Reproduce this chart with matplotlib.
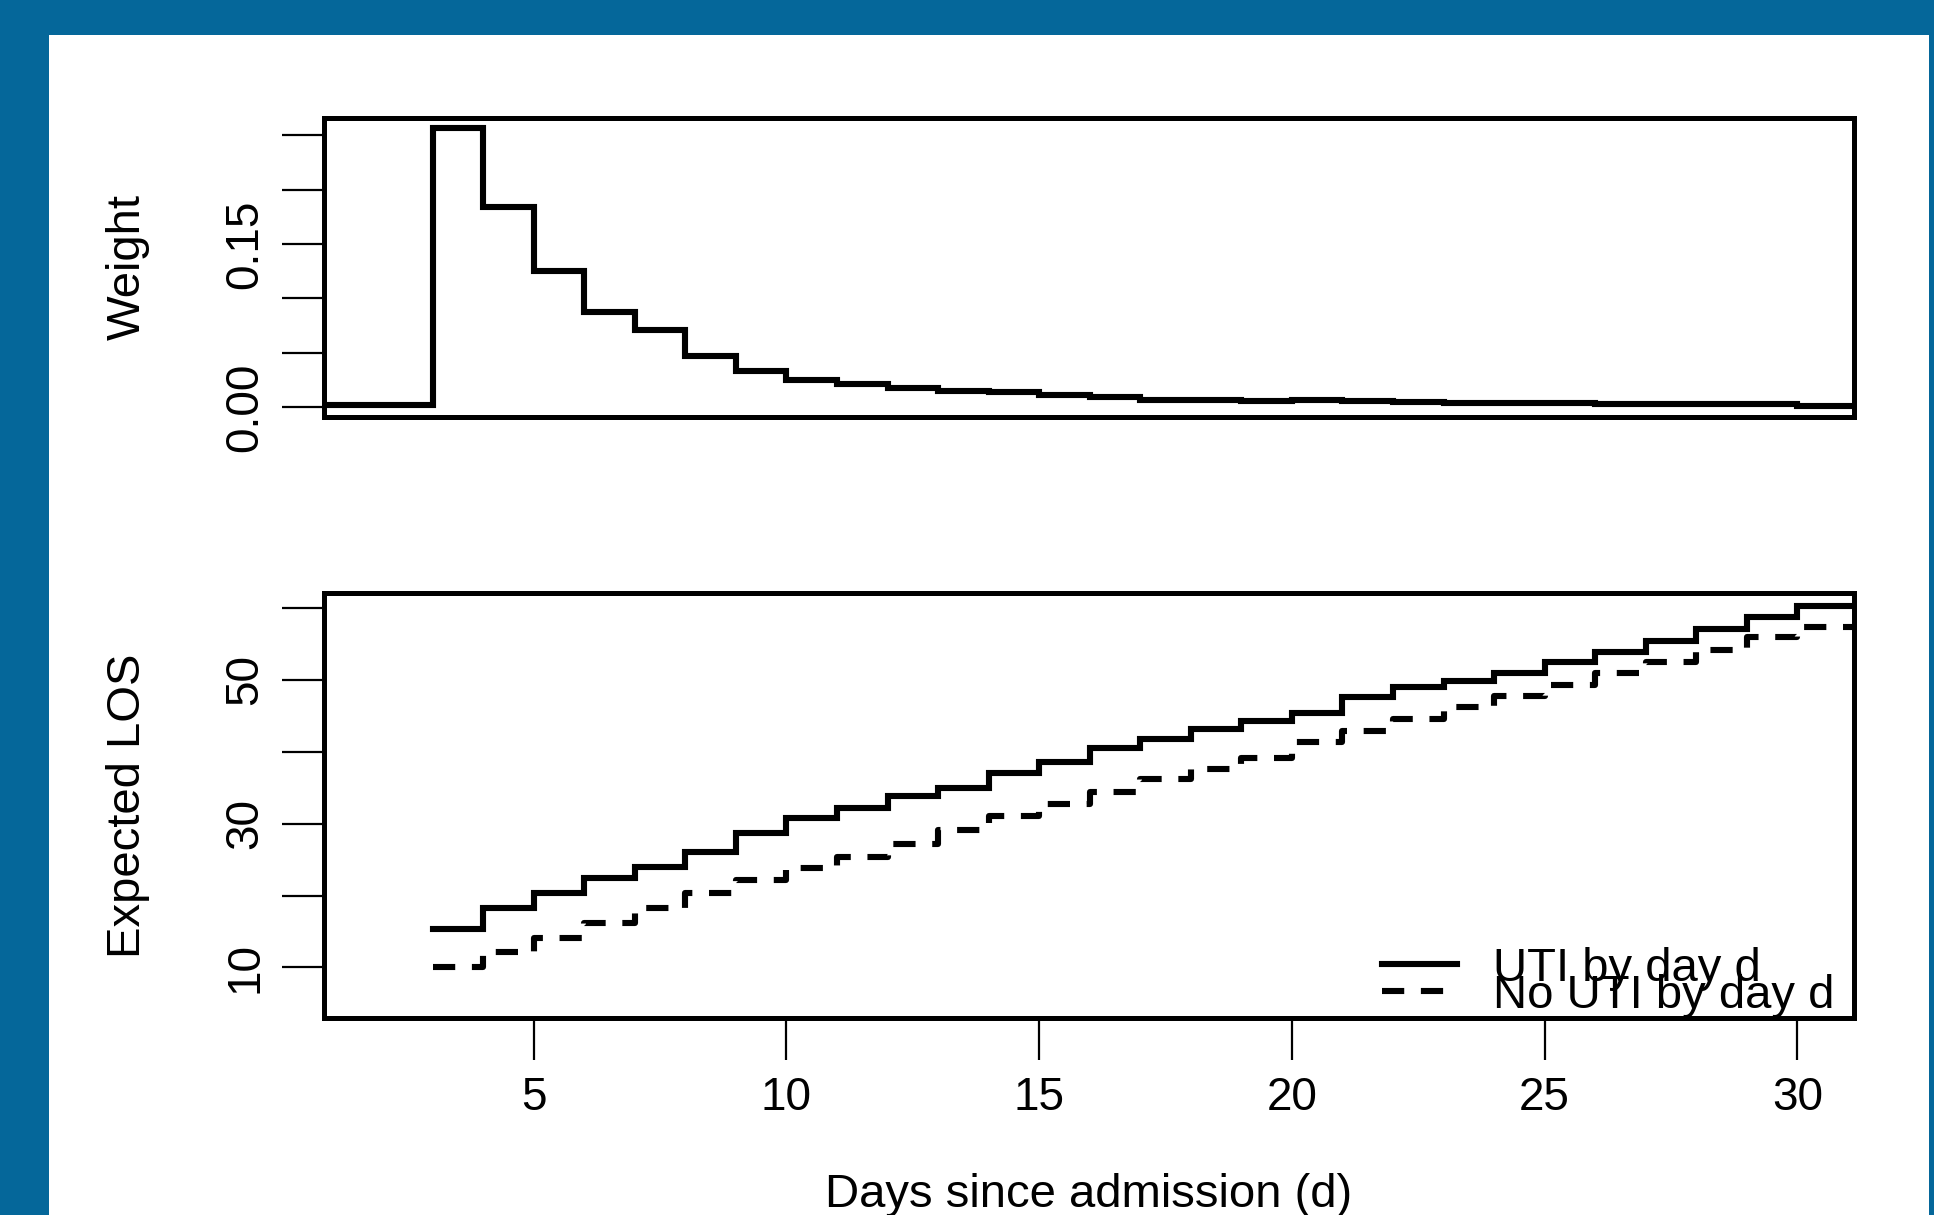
import numpy as np
import matplotlib.pyplot as plt
from matplotlib.patches import Rectangle

plt.rcParams['font.family'] = ['Liberation Sans', 'DejaVu Sans']
plt.rcParams['lines.scale_dashes'] = False

# weight per day (top panel)
w_days = np.arange(0, 31)
weight = [0.002, 0.002, 0.002, 0.257, 0.184, 0.125, 0.088, 0.071, 0.047, 0.033,
          0.025, 0.021, 0.018, 0.015, 0.014, 0.011, 0.0098, 0.007, 0.007, 0.0055,
          0.0062, 0.0055, 0.0045, 0.0042, 0.004, 0.0035, 0.0033, 0.003, 0.003, 0.003,
          0.001]

# expected LOS (bottom panel), days 3..30
days = np.arange(3, 31)
los_uti = [15.4, 18.2, 20.4, 22.4, 24.0, 26.1, 28.7, 30.8, 32.1, 33.8,
           35.0, 37.0, 38.6, 40.5, 41.8, 43.1, 44.2, 45.4, 47.6, 49.0,
           49.8, 51.0, 52.5, 53.9, 55.4, 57.0, 58.7, 60.2]
los_no_uti = [10.1, 12.1, 14.1, 16.2, 18.3, 20.3, 22.1, 23.8, 25.4, 27.2,
              29.1, 31.1, 32.7, 34.4, 36.2, 37.6, 39.1, 41.3, 42.9, 44.5,
              46.2, 47.8, 49.3, 50.9, 52.4, 54.2, 56.0, 57.4]

W, H = 1934, 1215
fig = plt.figure(figsize=(W / 100, H / 100), dpi=100, facecolor='#05679A')
fig.add_artist(Rectangle((49 / W, 0), (1929 - 49) / W, (H - 35) / H,
                         transform=fig.transFigure, facecolor='white',
                         edgecolor='none', zorder=0))

ax1 = fig.add_axes([324 / W, 1 - 417 / H, 1530 / W, 299 / H])
ax2 = fig.add_axes([324 / W, 1 - 1018 / H, 1530 / W, 425 / H])

lw = 4.4
# step lines: extend last value past the right edge
def ext(x, y):
    return np.append(x, x[-1] + 2), np.append(y, y[-1])

xw, yw = ext(w_days, weight)
ax1.plot(xw, yw, drawstyle='steps-post', color='black', lw=lw, solid_joinstyle='miter')

xs, ys = ext(days, los_uti)
l1, = ax2.plot(xs, ys, drawstyle='steps-post', color='black', lw=lw,
               solid_joinstyle='miter', label='UTI by day d')
xn, yn = ext(days, los_no_uti)
l2, = ax2.plot(xn, yn, drawstyle='steps-post', color='black', lw=lw,
               linestyle=(0, (16, 12)), label='No UTI by day d')

for ax in (ax1, ax2):
    ax.set_xlim(0.85, 31.12)
    for s in ax.spines.values():
        s.set_linewidth(3.6)
    ax.tick_params(direction='out', length=30, width=1.6, pad=11, labelsize=33)

ax1.set_ylim(-0.009, 0.266)
ax1.set_xticks([])
yt1 = [0.0, 0.05, 0.10, 0.15, 0.20, 0.25]
ax1.set_yticks(yt1)
ax1.set_yticklabels(['0.00', '', '', '0.15', '', ''], rotation=90, va='center')

ax2.set_ylim(2.97, 62.06)
yt2 = [10, 20, 30, 40, 50, 60]
ax2.set_yticks(yt2)
ax2.set_yticklabels(['10', '', '30', '', '50', ''], rotation=90, va='center')
ax2.set_xticks([5, 10, 15, 20, 25, 30])
ax2.tick_params(axis='x', pad=12)

ax1.set_ylabel('Weight', fontsize=34)
ax1.yaxis.set_label_coords(-0.114, 0.5)
ax2.set_ylabel('Expected LOS', fontsize=34)
ax2.yaxis.set_label_coords(-0.114, 0.5)
ax2.set_xlabel('Days since admission (d)', fontsize=34)
ax2.xaxis.set_label_coords(0.5, -0.365)

ax2.legend(handles=[l1, l2], loc='lower right', bbox_to_anchor=(1 - 20 / 1530, 0.0),
           frameon=False, fontsize=34, labelspacing=-0.36, handlelength=1.6,
           handletextpad=0.75, borderpad=0, borderaxespad=0)

fig.savefig('out.png', dpi=100, facecolor=fig.get_facecolor())
